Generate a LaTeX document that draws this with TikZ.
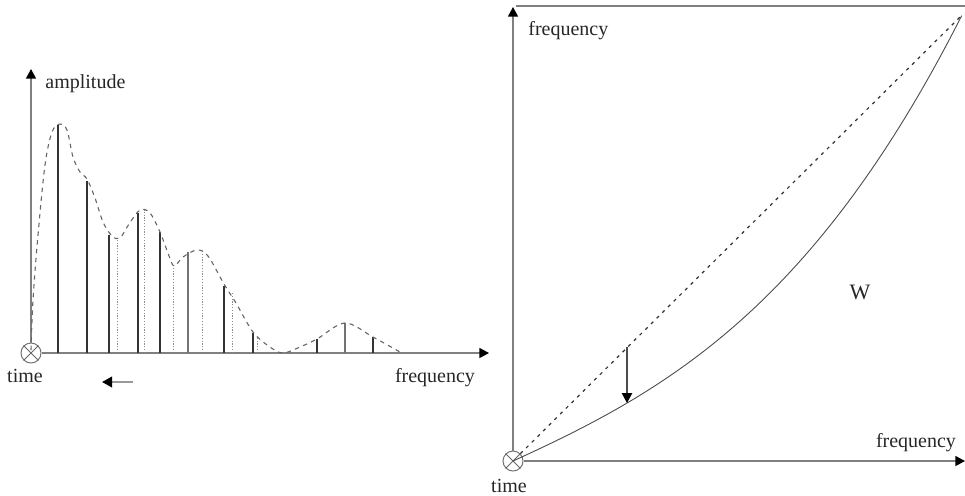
\documentclass[tikz,border=0pt]{standalone}
\usepackage{fontspec}
\setmainfont{Liberation Serif}
\usetikzlibrary{arrows.meta}
\begin{document}
\begin{tikzpicture}[x=0.5pt,y=-0.5pt,
  axis/.style={draw=black!50,line width=0.7pt,-{Triangle[length=4.8pt,width=5pt,color=black]}},
  origin/.style={draw=black!55,circle,line width=0.5pt,minimum size=10pt,inner sep=0pt},
  stem/.style={black!80,line width=0.7pt},
  dstem/.style={black!45,line width=0.5pt,dash pattern=on 0.6pt off 0.8pt},
  envelope/.style={black!60,line width=0.55pt,dash pattern=on 2.2pt off 2.2pt},
  lbl/.style={font=\fontsize{10}{12}\selectfont,text=black!85,inner sep=0pt},
  tip/.style={-{Triangle[length=5pt,width=5.2pt,color=black]}}]
\useasboundingbox (0,0) rectangle (965,495);
% ---------------- left plot ----------------
\node[origin] (o1) at (31,353) {};
\draw[black!60,line width=0.4pt] (o1.north west) -- (o1.south east) (o1.north east) -- (o1.south west);
\coordinate (ly) at (31,69);
\coordinate (lx) at (489,353);
\draw[axis] (o1.north) -- (ly);
\draw[axis] (o1.east) -- (lx);
\node[lbl,anchor=west] (amp) at (45,84) {amplitude};
\node[lbl] (t1) at (25,376) {time};
\node[lbl] (f1) at (435,378) {frequency};
% dotted stems
\foreach \x/\y in {117/238,144/210,173/267,202/251,232/293,257/337}
  \draw[dstem] (\x,353) -- (\x,\y);
% solid stems
\foreach \x/\y in {58/125,87/181,109/235,138/213,160/232,224/286,253/333,317/339,373/337}
  \draw[stem] (\x,353) -- (\x,\y);
\foreach \x/\y in {188/252,345/323}
  \draw[black!55,line width=1.1pt] (\x,353) -- (\x,\y);
% envelope
\draw[envelope] plot[smooth,tension=0.55] coordinates {
 (31,350) (33,300) (38,235) (45,165) (52,132) (60,124) (67,130) (73,157) (80,172)
 (87,179) (95,198) (103,222) (112,236) (120,238) (129,224) (140,210) (150,213)
 (160,232) (168,253) (174,266) (183,257) (197,250) (208,256) (224,284) (236,303)
 (253,332) (270,347) (283,353) (300,347) (317,339) (345,323) (373,337) (400,352)};
% left arrow
\coordinate (la1) at (133,382);
\coordinate (la2) at (102,382);
\draw[tip,black!40,line width=1.1pt] (la1) -- (la2);
% ---------------- right plot ----------------
\node[origin] (o2) at (513,461) {};
\draw[black!60,line width=0.4pt] (o2.north west) -- (o2.south east) (o2.north east) -- (o2.south west);
\coordinate (ry) at (513,7);
\coordinate (rx) at (965,461);
\coordinate (rtl) at (516,6);
\coordinate (rtr) at (965,6);
\coordinate (re) at (962,15);
\draw[axis] (o2.north) -- (ry);
\draw[axis] (o2.east) -- (rx);
\draw[draw=black!50,line width=0.7pt] (rtl) -- (rtr);
\draw[black!80,line width=0.6pt,dash pattern=on 1.6pt off 2.4pt] (o2) -- (re);
\draw[black!70,line width=0.45pt] plot[domain=0:1,samples=80]
  ({513+449*\x},{461-446*(0.46*\x+0.09*\x*\x+0.45*\x*\x*\x)});
\node[lbl,anchor=west] (f2) at (528,31) {frequency};
\node[lbl] (f3) at (916,443) {frequency};
\node[lbl] (t2) at (509,486) {time};
\node[lbl,font=\fontsize{11}{13}\selectfont] (w) at (860,292) {W};
\coordinate (a1) at (627,347);
\coordinate (a2) at (627,403);
\draw[tip,black!70,line width=0.7pt] (a1) -- (a2);
\end{tikzpicture}
\end{document}
